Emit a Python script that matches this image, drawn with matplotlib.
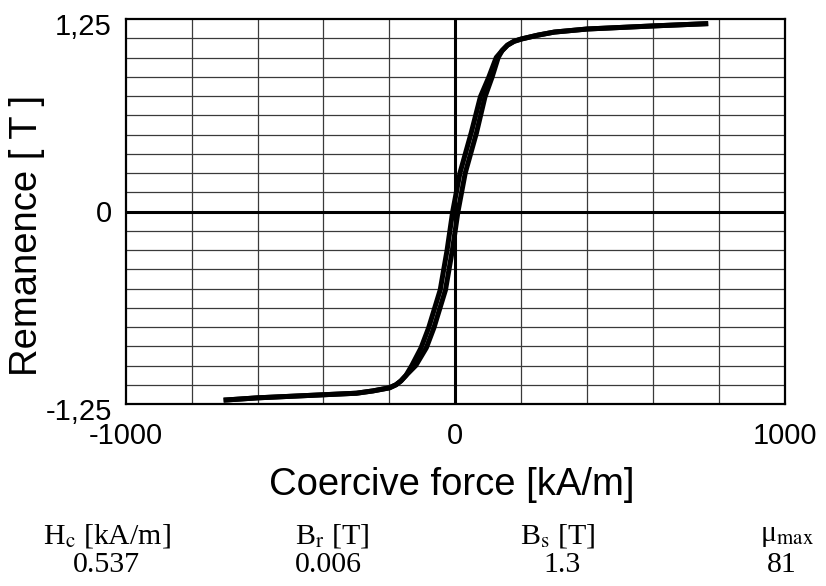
import matplotlib
matplotlib.use("Agg")
import matplotlib.pyplot as plt
import matplotlib.transforms as mtransforms
import numpy as np

# ---- data ----
# descending branch (left side of the loop)
h_desc = [767, 600, 400, 300, 250, 200, 178, 158, 142, 124, 101, 76, 48, 14, -8,
          -25, -46, -81, -104, -132, -150, -165, -180, -200, -250, -300, -400, -600, -703]
b_desc = [1.22, 1.205, 1.185, 1.165, 1.145, 1.12, 1.105, 1.08, 1.045, 1.0, 0.87, 0.745,
          0.51, 0.25, 0.0, -0.25, -0.51, -0.755, -0.885, -1.0, -1.065, -1.1, -1.125,
          -1.145, -1.165, -1.18, -1.19, -1.21, -1.225]
# ascending branch (right side of the loop)
h_asc = [-703, -600, -400, -300, -250, -200, -180, -165, -150, -120, -88, -65, -30,
         -9, 8, 30, 64, 90, 111, 130, 142, 158, 178, 200, 250, 300, 400, 600, 767]
b_asc = [-1.225, -1.21, -1.19, -1.18, -1.165, -1.145, -1.125, -1.1, -1.065, -1.0,
         -0.885, -0.755, -0.51, -0.25, 0.0, 0.25, 0.51, 0.745, 0.87, 1.0, 1.045, 1.08,
         1.105, 1.12, 1.145, 1.165, 1.185, 1.205, 1.22]

x_ticks = [-1000, 0, 1000]
x_tick_labels = ["-1000", "0", "1000"]
y_ticks = [-1.25, 0, 1.25]
y_tick_labels = ["-1,25", "0", "1,25"]

prop_names = [r"H$_\mathrm{c}$ [kA/m]", r"B$_\mathrm{r}$ [T]", r"B$_\mathrm{s}$ [T]", r"μ$_\mathrm{max}$"]
prop_values = ["0.537", "0.006", "1.3", "81"]

plt.rcParams['font.family'] = ['Liberation Sans', 'DejaVu Sans']
plt.rcParams['mathtext.fontset'] = 'stix'

fig = plt.figure(figsize=(8.26, 5.86), dpi=100)
ax = fig.add_axes([125.7/826, 1-404/586, (785-125.7)/826, (404-19)/586])

ax.set_xlim(-1000, 1000)
ax.set_ylim(-1.25, 1.25)

# grid
ax.set_xticks(np.arange(-1000, 1001, 200), minor=True)
ax.set_yticks(np.arange(-1.25, 1.2501, 0.125), minor=True)
ax.grid(which='minor', color='#3a3a3a', linewidth=0.9)
ax.axhline(0, color='black', linewidth=2.2, zorder=2)
ax.axvline(0, color='black', linewidth=2.2, zorder=2)

ax.plot(h_desc, b_desc, color='black', linewidth=3.6, solid_joinstyle='round',
        solid_capstyle='butt', zorder=3)
ax.plot(h_asc, b_asc, color='black', linewidth=3.6, solid_joinstyle='round',
        solid_capstyle='butt', zorder=3)

ax.set_xticks(x_ticks)
ax.set_xticklabels(x_tick_labels, fontsize=21)
ax.set_yticks(y_ticks)
ax.set_yticklabels(y_tick_labels, fontsize=21)
ax.tick_params(which='both', length=0)
ax.tick_params(axis='x', pad=13)
ax.tick_params(axis='y', pad=10)
shift = mtransforms.ScaledTranslation(0, -5/100, fig.dpi_scale_trans)
for i, lbl in enumerate(ax.get_yticklabels()):
    if i != 1:
        lbl.set_transform(lbl.get_transform() + shift)

for s in ax.spines.values():
    s.set_linewidth(1.6)
    s.set_color('black')

ax.set_xlabel("Coercive force [kA/m]", fontsize=27.5)
ax.xaxis.set_label_coords((452-125.7)/659.3, (404-485)/385)
ax.xaxis.label.set_va('center')
ax.set_ylabel("Remanence [ T ]", fontsize=27.5)
ax.yaxis.set_label_coords((27-125.7)/659.3, (404-235)/385)
ax.yaxis.label.set_va('center')

name_x = [107, 332, 558, 787]
val_x = [106, 328, 562, 782]
for nx, vx, nm, vl in zip(name_x, val_x, prop_names, prop_values):
    fig.text(nx/826, 1-536/586, nm, ha='center', va='center', fontsize=21.5,
             family=['Liberation Serif', 'DejaVu Serif'])
    fig.text(vx/826, 1-565/586, vl, ha='center', va='center', fontsize=21.5,
             family=['Liberation Serif', 'DejaVu Serif'])

fig.savefig("out.png", dpi=100)
